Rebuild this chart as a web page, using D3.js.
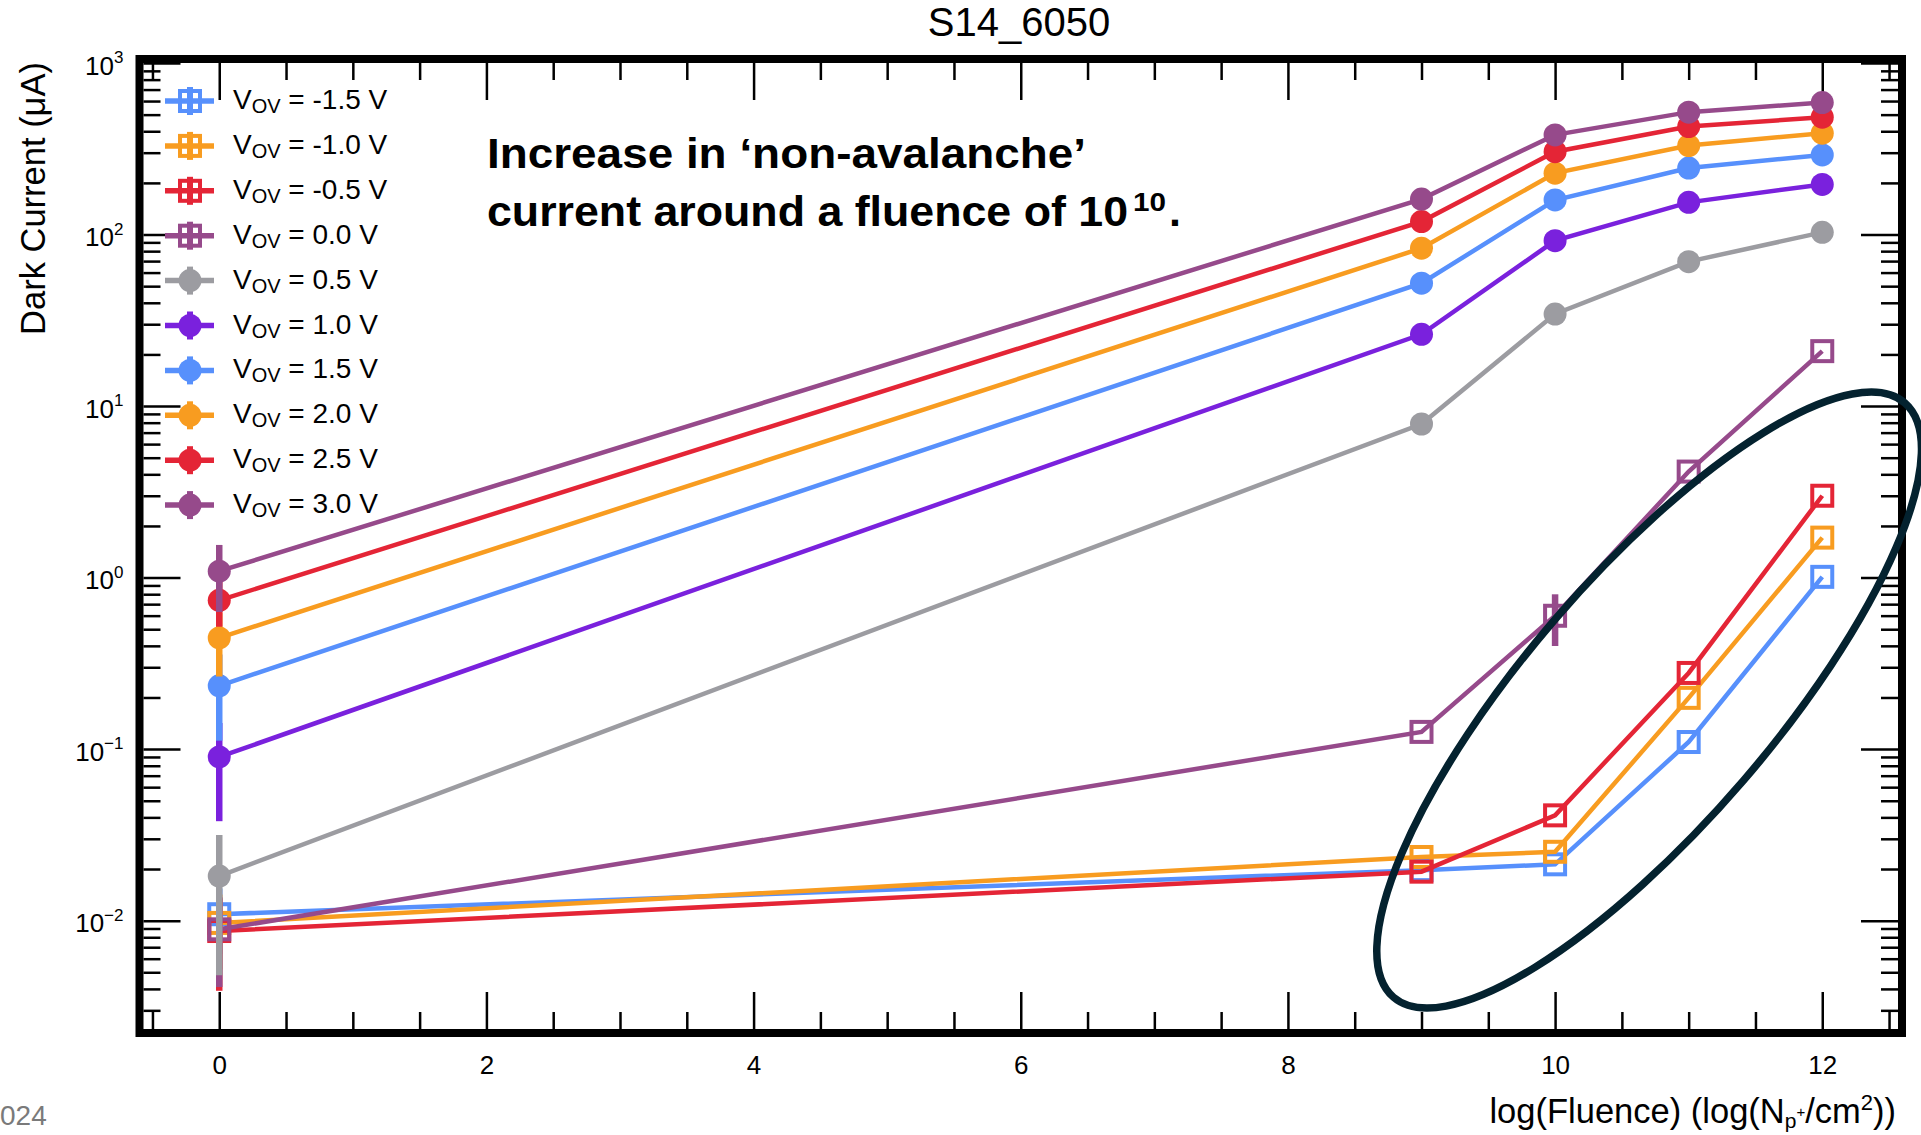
<!DOCTYPE html>
<html>
<head>
<meta charset="utf-8">
<title>S14_6050</title>
<script src="https://cdn.jsdelivr.net/npm/d3@7"></script>
<style>
    body { margin: 0; background: #fff; }
    svg { display: block; font-family: "Liberation Sans", Arial, Helvetica, sans-serif; }
</style>
</head>
<body>
<svg id="chart" width="1921" height="1135"></svg>
<script>
// x values: log10 of fluence
const fluence = [0, 9, 10, 11, 12];

const vovLabels = ["-1.5", "-1.0", "-0.5", "0.0", "0.5", "1.0", "1.5", "2.0", "2.5", "3.0"];
const seriesColors = ["#5790fc", "#f89c20", "#e42536", "#964a8b", "#9c9ca1",
                      "#7a21dd", "#5790fc", "#f89c20", "#e42536", "#964a8b"];

// dark current (uA), one array per over-voltage
const iVm15 = [0.0109, 0.0197, 0.0213, 0.110, 1.01];
const iVm10 = [0.0097, 0.0235, 0.0252, 0.199, 1.71];
const iVm05 = [0.0087, 0.0193, 0.0411, 0.278, 3.00];
const iV00  = [0.0089, 0.126, 0.599, 4.15, 20.9];
const iV05  = [0.0182, 7.86, 34.4, 69.5, 103];
const iV10  = [0.090, 26.2, 92.1, 154, 196];
const iV15  = [0.234, 52.0, 159, 244, 291];
const iV20  = [0.445, 83.2, 228, 330, 390];
const iV25  = [0.737, 119, 304, 426, 483];
const iV30  = [1.09, 161, 381, 517, 588];

// errors (only the visible ones)
const eVm15 = [0.0045, 0, 0, 0, 0];
const eVm10 = [0.0045, 0, 0, 0, 0];
const eVm05 = [0.0048, 0, 0, 0, 0];
const eV00  = [0.0048, 0, 0.2, 0, 0];
const eV05  = [0.0134, 0, 0, 0, 0];
const eV10  = [0.052, 0, 0, 0, 0];
const eV15  = [0.122, 0, 0, 0, 0];
const eV20  = [0.18, 0, 0, 0, 0];
const eV25  = [0.22, 0, 0, 0, 0];
const eV30  = [0.46, 0, 0, 0, 0];

const xMajor = [0, 2, 4, 6, 8, 10, 12];
const yMajor = [1e-2, 1e-1, 1, 10, 100, 1000];

const currents = [iVm15, iVm10, iVm05, iV00, iV05, iV10, iV15, iV20, iV25, iV30];
const errors = [eVm15, eVm10, eVm05, eV00, eV05, eV10, eV15, eV20, eV25, eV30];

const series = vovLabels.map((v, i) => ({
    label: v,
    color: seriesColors[i],
    open: +v <= 0,
    points: fluence.map((f, j) => ({ x: f, y: currents[i][j], e: errors[i][j] }))
}));

const plotLeft = 143.5, plotRight = 1898, plotTop = 63, plotBottom = 1029;

const svg = d3.select("#chart");

const xScale = d3.scaleLinear()
    .domain([-0.567, 12.567])
    .range([plotLeft, plotRight]);

const yScale = d3.scaleLog()
    .domain([0.002335, 1000])
    .range([plotBottom, plotTop]);

// minor tick values
let xMinor = d3.range(-0.5, 12.6, 0.5).filter(v => v % 2 !== 0);
let yMinor = [];
for (let p = -3; p <= 2; p++) {
    for (let k = 2; k <= 9; k++) {
        let v = k * Math.pow(10, p);
        if (v >= 0.002335 && v <= 1000) yMinor.push(v);
    }
}

function styleAxis(g) {
    g.select(".domain").remove();
    g.attr("color", "#000");
    g.selectAll("line").attr("stroke-width", 2.5);
}

// Axis - bottom and top
svg.append("g")
    .attr("transform", 'translate(0, ' + plotBottom + ')')
    .call(d3.axisBottom(xScale).tickValues(xMajor).tickSize(-37).tickPadding(27))
    .call(styleAxis)
    .selectAll("text")
    .attr("font-size", 26)
    .attr("font-family", "Liberation Sans, Arial, sans-serif");

svg.append("g")
    .attr("transform", 'translate(0, ' + plotBottom + ')')
    .call(d3.axisBottom(xScale).tickValues(xMinor).tickSize(-17).tickFormat(""))
    .call(styleAxis);

svg.append("g")
    .attr("transform", 'translate(0, ' + plotTop + ')')
    .call(d3.axisTop(xScale).tickValues(xMajor).tickSize(-37).tickFormat(""))
    .call(styleAxis);

svg.append("g")
    .attr("transform", 'translate(0, ' + plotTop + ')')
    .call(d3.axisTop(xScale).tickValues(xMinor).tickSize(-17).tickFormat(""))
    .call(styleAxis);

// Axis - left and right
const yAxisG = svg.append("g")
    .attr("transform", 'translate(' + plotLeft + ', 0)')
    .call(d3.axisLeft(yScale).tickValues(yMajor).tickSize(-37).tickFormat(""))
    .call(styleAxis);

yAxisG.selectAll(".tick").each(function (d) {
    const e = Math.round(Math.log10(d));
    const t = d3.select(this).append("text")
        .attr("x", -20)
        .attr("y", 11)
        .attr("text-anchor", "end")
        .attr("fill", "#000")
        .attr("font-size", 26)
        .attr("font-family", "Liberation Sans, Arial, sans-serif");
    t.append("tspan").text("10");
    t.append("tspan")
        .attr("dy", -11.5)
        .attr("font-size", 17)
        .text(e < 0 ? "\u2212" + (-e) : e);
});

svg.append("g")
    .attr("transform", 'translate(' + plotLeft + ', 0)')
    .call(d3.axisLeft(yScale).tickValues(yMinor).tickSize(-17).tickFormat(""))
    .call(styleAxis);

svg.append("g")
    .attr("transform", 'translate(' + plotRight + ', 0)')
    .call(d3.axisRight(yScale).tickValues(yMajor).tickSize(-37).tickFormat(""))
    .call(styleAxis);

svg.append("g")
    .attr("transform", 'translate(' + plotRight + ', 0)')
    .call(d3.axisRight(yScale).tickValues(yMinor).tickSize(-17).tickFormat(""))
    .call(styleAxis);

// frame
svg.append("rect")
    .attr("x", plotLeft - 4)
    .attr("y", plotTop - 4)
    .attr("width", plotRight - plotLeft + 8)
    .attr("height", plotBottom - plotTop + 8)
    .attr("fill", "none")
    .attr("stroke", "#000")
    .attr("stroke-width", 8);

// data
const line = d3.line()
    .x(d => xScale(d.x))
    .y(d => yScale(d.y));

series.forEach(s => {
    const g = svg.append("g");

    g.append("path")
        .datum(s.points)
        .attr("d", line)
        .attr("fill", "none")
        .attr("stroke", s.color)
        .attr("stroke-width", 4.5);

    g.selectAll("line.err")
        .data(s.points.filter(p => p.e > 0))
        .enter()
        .append("line")
        .attr("class", "err")
        .attr("x1", d => xScale(d.x))
        .attr("x2", d => xScale(d.x))
        .attr("y1", d => yScale(d.y + d.e))
        .attr("y2", d => yScale(Math.max(d.y - d.e, 0.0025)))
        .attr("stroke", s.color)
        .attr("stroke-width", 6.5);

    if (s.open) {
        g.selectAll("rect")
            .data(s.points)
            .enter()
            .append("rect")
            .attr("x", d => xScale(d.x) - 10)
            .attr("y", d => yScale(d.y) - 10)
            .attr("width", 20)
            .attr("height", 20)
            .attr("fill", "none")
            .attr("stroke", s.color)
            .attr("stroke-width", 4);
    } else {
        g.selectAll("circle")
            .data(s.points)
            .enter()
            .append("circle")
            .attr("cx", d => xScale(d.x))
            .attr("cy", d => yScale(d.y))
            .attr("r", 11.5)
            .attr("fill", s.color);
    }
});

// legend
const legend = svg.append("g");
series.forEach((s, i) => {
    const cy = 101 + i * 44.9;
    const lg = legend.append("g").attr("transform", 'translate(190, ' + cy + ')');
    lg.append("line")
        .attr("x1", -25).attr("x2", 24)
        .attr("stroke", s.color).attr("stroke-width", 5.5);
    lg.append("line")
        .attr("y1", -14).attr("y2", 14)
        .attr("stroke", s.color).attr("stroke-width", 6);
    if (s.open) {
        lg.append("rect")
            .attr("x", -10).attr("y", -10)
            .attr("width", 20).attr("height", 20)
            .attr("fill", "none")
            .attr("stroke", s.color).attr("stroke-width", 4);
    } else {
        lg.append("circle").attr("r", 11.5).attr("fill", s.color);
    }
    const t = lg.append("text")
        .attr("x", 43)
        .attr("y", 8)
        .attr("font-size", 28)
        .attr("fill", "#000");
    t.append("tspan").text("V");
    t.append("tspan").attr("dy", 4).attr("font-size", 20).text("OV");
    t.append("tspan").attr("dy", -4).text(" = " + s.label + " V");
});

// titles
svg.append("text")
    .attr("x", 1019)
    .attr("y", 36)
    .attr("text-anchor", "middle")
    .attr("font-size", 40)
    .text("S14_6050");

svg.append("text")
    .attr("transform", 'translate(45, 62) rotate(-90)')
    .attr("text-anchor", "end")
    .attr("font-size", 34.5)
    .text("Dark Current (\u03bcA)");

const xt = svg.append("text")
    .attr("x", 1896)
    .attr("y", 1123)
    .attr("text-anchor", "end")
    .attr("font-size", 34.5);
xt.append("tspan").text("log(Fluence) (log(N");
xt.append("tspan").attr("dy", 5).attr("font-size", 21).text("p");
xt.append("tspan").attr("dy", -11).attr("font-size", 15).text("+");
xt.append("tspan").attr("dy", 6).text("/cm");
xt.append("tspan").attr("dy", -13).attr("font-size", 22).text("2");
xt.append("tspan").attr("dy", 13).text("))");

// footer fragment
svg.append("text")
    .attr("x", 0)
    .attr("y", 1125)
    .attr("font-size", 28)
    .attr("fill", "#7a7a7a")
    .text("024");

// annotation
const noteFont = "'Liberation Sans', Arial, sans-serif";
svg.append("text")
    .attr("x", 487)
    .attr("y", 168)
    .attr("font-family", noteFont)
    .attr("font-weight", "bold")
    .attr("font-size", 43)
    .attr("textLength", 599)
    .attr("lengthAdjust", "spacingAndGlyphs")
    .text("Increase in \u2018non-avalanche\u2019");

svg.append("text")
    .attr("x", 487)
    .attr("y", 226)
    .attr("font-family", noteFont)
    .attr("font-weight", "bold")
    .attr("font-size", 43)
    .attr("textLength", 641)
    .attr("lengthAdjust", "spacingAndGlyphs")
    .text("current around a fluence of 10");

svg.append("text")
    .attr("x", 1133)
    .attr("y", 211)
    .attr("font-family", noteFont)
    .attr("font-weight", "bold")
    .attr("font-size", 25)
    .attr("textLength", 33)
    .attr("lengthAdjust", "spacingAndGlyphs")
    .text("10");

svg.append("text")
    .attr("x", 1169)
    .attr("y", 226)
    .attr("font-family", noteFont)
    .attr("font-weight", "bold")
    .attr("font-size", 43)
    .text(".");

// highlight ellipse around the negative over-voltage points
svg.append("ellipse")
    .attr("transform", 'translate(' + xScale(10.704) + ', ' + yScale(0.1932) + ') rotate(-49.3)')
    .attr("rx", 392)
    .attr("ry", 124)
    .attr("fill", "none")
    .attr("stroke", "#04222f")
    .attr("stroke-width", 7.5);
</script>
</body>
</html>
